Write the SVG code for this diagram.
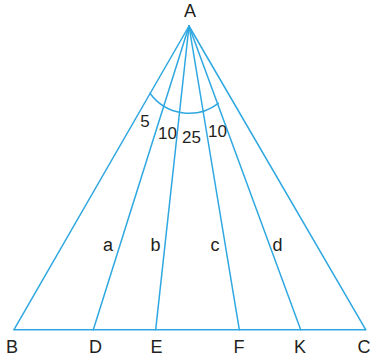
<svg xmlns="http://www.w3.org/2000/svg" width="370" height="361" viewBox="0 0 370 361">
<style>
.ln{stroke:#2fa8e1;stroke-width:1.5;fill:none;stroke-linecap:round}
.t{font-family:"Liberation Sans",Arial,sans-serif;font-size:18px;fill:#231f20;text-anchor:middle}
.n{font-family:"Liberation Sans",Arial,sans-serif;font-size:17px;fill:#231f20;text-anchor:middle}
</style>
<rect width="370" height="361" fill="#ffffff"/>
<g id="connectors">
<line class="ln" x1="189" y1="26" x2="14" y2="329.7"/>
<line class="ln" x1="189" y1="26" x2="93.3" y2="329.7"/>
<line class="ln" x1="189" y1="26" x2="155.7" y2="329.7"/>
<line class="ln" x1="189" y1="26" x2="239.3" y2="329.7"/>
<line class="ln" x1="189" y1="26" x2="300.7" y2="329.7"/>
<line class="ln" x1="189" y1="26" x2="365.7" y2="329.7"/>
<line class="ln" x1="14" y1="329.7" x2="365.7" y2="329.7"/>
<path class="ln" d="M150,93.3 A48,48 0 0 0 218.3,103.3"/>
</g>
<g id="A"><text class="t" x="190" y="17">A</text></g>
<g id="B"><text class="t" x="12" y="352.5">B</text></g>
<g id="D"><text class="t" x="95.5" y="352.5">D</text></g>
<g id="E"><text class="t" x="156.5" y="352.5">E</text></g>
<g id="F"><text class="t" x="239" y="352.5">F</text></g>
<g id="K"><text class="t" x="300" y="352.5">K</text></g>
<g id="C"><text class="t" x="364" y="352.5">C</text></g>
<g id="labels">
<text class="t" x="108" y="251">a</text>
<text class="t" x="155.5" y="251">b</text>
<text class="t" x="215" y="251">c</text>
<text class="t" x="277.5" y="251">d</text>
<text class="n" x="145" y="127">5</text>
<text class="n" x="167.5" y="139">10</text>
<text class="n" x="191.5" y="143">25</text>
<text class="n" x="217.5" y="137">10</text>
</g>
</svg>
